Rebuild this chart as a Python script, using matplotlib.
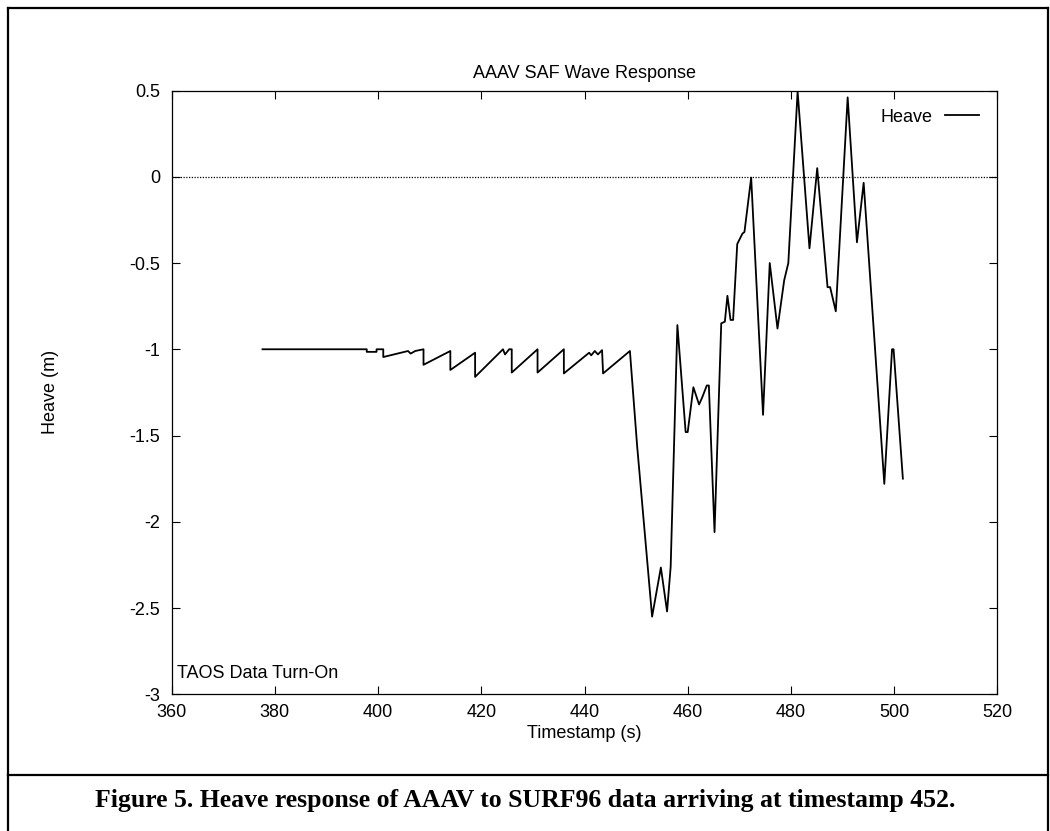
import matplotlib.pyplot as plt
from matplotlib.lines import Line2D

# Heave response
time_s = [
    377.6, 397.8, 397.8, 399.7, 399.7, 401.0, 401.0, 405.8, 406.3, 407.2,
    408.8, 408.8, 414.0, 414.0, 418.8, 418.8, 424.2, 424.6, 425.4, 425.9,
    425.9, 430.9, 430.9, 436.0, 436.0, 440.9, 441.3, 442.0, 442.6, 443.4,
    443.6, 448.8, 450.2, 453.1, 454.8, 456.0, 456.7, 458.0, 459.6, 460.0,
    461.1, 462.2, 462.8, 463.7, 464.1, 465.2, 466.5, 467.2, 467.7, 468.3,
    468.8, 469.6, 470.6, 471.0, 472.3, 474.6, 475.9, 477.4, 478.7, 479.5,
    481.3, 483.6, 485.1, 487.1, 487.6, 488.7, 491.0, 492.8, 494.1, 498.1,
    499.6, 499.9, 501.7,
]
heave_m = [
    -1.0, -1.0, -1.015, -1.015, -1.0, -1.0, -1.045, -1.01, -1.025, -1.01,
    -1.0, -1.09, -1.01, -1.12, -1.02, -1.16, -1.0, -1.03, -1.0, -1.0,
    -1.135, -1.0, -1.135, -1.0, -1.14, -1.02, -1.035, -1.01, -1.03, -1.005,
    -1.14, -1.01, -1.56, -2.55, -2.265, -2.52, -2.26, -0.86, -1.48, -1.48,
    -1.22, -1.32, -1.28, -1.21, -1.21, -2.06, -0.85, -0.84, -0.69, -0.83,
    -0.83, -0.39, -0.33, -0.32, -0.005, -1.38, -0.5, -0.88, -0.6, -0.5,
    0.495, -0.415, 0.05, -0.64, -0.64, -0.78, 0.46, -0.38, -0.035, -1.78,
    -1.0, -1.0, -1.75,
]

x_ticks = [360, 380, 400, 420, 440, 460, 480, 500, 520]
y_ticks = [0.5, 0, -0.5, -1, -1.5, -2, -2.5, -3]
y_tick_labels = ['0.5', '0', '-0.5', '-1', '-1.5', '-2', '-2.5', '-3']

W, H = 1050, 831
plt.rcParams['font.family'] = ['Liberation Sans', 'DejaVu Sans']

fig = plt.figure(figsize=(W / 100, H / 100), dpi=100)
ax = fig.add_axes([171.7 / W, 1 - 694.3 / H, (997.3 - 171.7) / W, (694.3 - 90.5) / H])

ax.plot(time_s, heave_m, color='black', lw=1.3, label='Heave')
ax.axhline(0, color='black', lw=0.9, ls=(0, (1, 1.2)))

ax.set_xlim(360, 520)
ax.set_ylim(-3, 0.5)
ax.set_xticks(x_ticks)
ax.set_yticks(y_ticks)
ax.set_yticklabels(y_tick_labels)
ax.tick_params(direction='in', length=5.5, width=0.8, top=True, right=True,
               labelsize=13)
ax.tick_params(axis='x', pad=7)
ax.tick_params(axis='y', pad=8.5)
for s in ax.spines.values():
    s.set_linewidth(0.9)

ax.set_title('AAAV SAF Wave Response', fontsize=13, pad=9)
ax.set_xlabel('Timestamp (s)', fontsize=13)
ax.xaxis.set_label_coords(0.5, -(725 - 694.3) / 603.8)
ax.xaxis.label.set_va('top')
ax.set_ylabel('Heave (m)', fontsize=13)
ax.yaxis.set_label_coords(-0.1365, 0.5)

ax.text(0.007, 0.02, 'TAOS Data Turn-On', transform=ax.transAxes, fontsize=13,
        ha='left', va='bottom')

ax.legend(loc='center right', bbox_to_anchor=(0.978, 0.956), frameon=False,
          markerfirst=False, fontsize=13, handlelength=1.9, handletextpad=0.7,
          borderpad=0, borderaxespad=0)

# outer frame and caption box
def fig_line(x0, y0, x1, y1):
    fig.add_artist(Line2D([x0 / W, x1 / W], [1 - y0 / H, 1 - y1 / H],
                          color='black', lw=1.6))

fig_line(7.5, 7.5, 1048, 7.5)
fig_line(7.5, 7.5, 7.5, 840)
fig_line(1048, 7.5, 1048, 840)
fig_line(7.5, 775, 1048, 775)

fig.text(525 / W, 1 - 806.5 / H,
         'Figure 5. Heave response of AAAV to SURF96 data arriving at timestamp 452.',
         ha='center', va='baseline', fontsize=18.5, fontweight='bold',
         family=['Liberation Serif', 'DejaVu Serif'])

fig.savefig('out.png', dpi=100)
